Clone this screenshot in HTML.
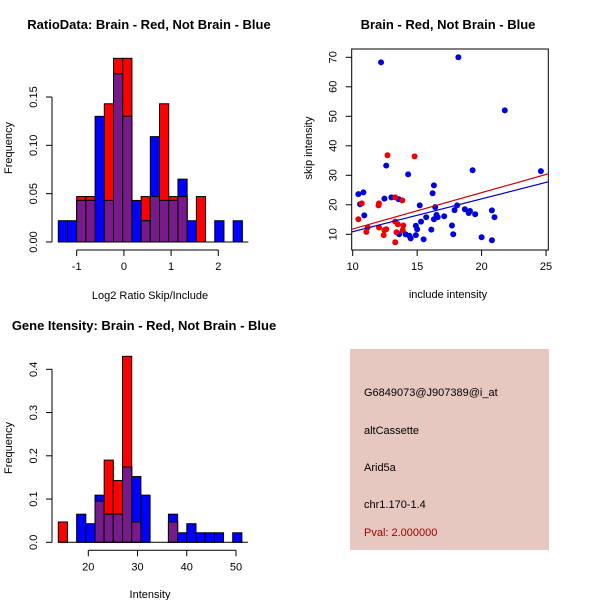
<!DOCTYPE html>
<html><head><meta charset="utf-8"><style>
body{margin:0;background:#fff;width:600px;height:600px;overflow:hidden}
svg{font-family:"Liberation Sans",Arial,sans-serif}
</style></head><body>
<svg id="s" width="600" height="600" xmlns="http://www.w3.org/2000/svg">
<text x="149" y="29" font-size="13" font-weight="bold" text-anchor="middle">RatioData: Brain - Red, Not Brain - Blue</text>
<text x="448" y="29" font-size="13" font-weight="bold" text-anchor="middle">Brain - Red, Not Brain - Blue</text>
<text x="144" y="330" font-size="13" font-weight="bold" text-anchor="middle">Gene Itensity: Brain - Red, Not Brain - Blue</text>
<text x="150" y="299" font-size="11" text-anchor="middle">Log2 Ratio Skip/Include</text>
<text x="150" y="598" font-size="11" text-anchor="middle">Intensity</text>
<text x="448" y="298" font-size="11" text-anchor="middle">include intensity</text>
<text transform="translate(12,148) rotate(-90)" font-size="11" text-anchor="middle">Frequency</text>
<text transform="translate(12,448) rotate(-90)" font-size="11" text-anchor="middle">Frequency</text>
<text transform="translate(312,148) rotate(-90)" font-size="11" text-anchor="middle">skip intensity</text>
<g>
<rect x="350" y="349" width="199" height="201" fill="#e6c8c0"/>
<text x="364" y="396" font-size="11">G6849073@J907389@i_at</text>
<text x="364" y="434" font-size="11">altCassette</text>
<text x="364" y="471" font-size="11">Arid5a</text>
<text x="364" y="508" font-size="11">chr1.170-1.4</text>
<text x="364" y="536" font-size="11" fill="#a00000">Pval: 2.000000</text>
</g>
</svg>
<script>
// Ratio histogram data
const ratioBreakStart = -1.39;
const ratioBinWidth = 0.195;
const ratioRed  = [0,0,0.047,0.047,0,0.143,0.19,0.19,0,0.047,0.047,0.143,0.047,0.047,0,0.047,0,0,0,0];
const ratioBlue = [0.022,0.022,0.043,0.043,0.13,0.043,0.174,0.13,0.043,0.022,0.109,0.043,0.043,0.065,0.022,0,0,0.022,0,0.022];
const ratioXTicks = [-1,0,1,2];
const ratioYTicks = ["0.00","0.05","0.10","0.15"];
// Intensity histogram data
const intBreakStart = 13.9;
const intBinWidth = 1.865;
const intRed  = [0.047,0,0,0,0.095,0.19,0.143,0.43,0.047,0,0,0,0.047,0,0,0,0,0,0,0];
const intBlue = [0,0,0.065,0.043,0.109,0.065,0.065,0.174,0.152,0.109,0,0,0.065,0.022,0.043,0.022,0.022,0.022,0,0.022];
const intXTicks = [20,30,40,50];
const intYTicks = ["0.0","0.1","0.2","0.3","0.4"];
// Scatter data
const blueX = [10.44,10.57,10.83,10.9,12.2,12.46,12.6,13.0,13.57,13.6,14.3,14.1,14.4,14.5,14.9,14.9,15.0,15.2,15.3,15.5,15.7,16.1,16.2,16.3,16.3,16.4,16.5,16.6,17.1,17.7,17.8,17.9,18.1,18.2,18.7,19.0,19.1,19.3,19.5,20.0,20.8,20.8,21.0,21.8,24.6];
const blueY = [23.6,20.2,24.2,16.4,68.3,22.1,33.3,22.5,21.9,10,30.3,10,9.5,8.6,12.9,9.7,11.7,19.8,14.3,8.3,15.8,11.6,23.9,15.1,26.6,19.2,16.6,15.8,16.1,13,10,18.2,19.8,70,18.5,17.2,17.9,31.7,16.8,9,8,18.1,15.8,52,31.4];
const redX = [10.44,10.7,11.06,11.16,12.0,12.04,12.04,12.4,12.46,12.6,12.7,13.3,13.3,13.5,13.4,13.3,13.85,13.88,13.93,14.8];
const redY = [15.1,20.5,10.8,12.3,19.8,20.5,12.3,9.7,11.4,11.7,36.8,22.5,14.3,13.4,10.7,7.3,21.5,11.4,13,36.4];
const fitRed = [-0.52,1.232];   // intercept, slope
const fitBlue = [-0.25,1.114];
const scXTicks = [10,15,20,25];
const scYTicks = [10,20,30,40,50,60,70];

const S=document.getElementById('s'), NS='http://www.w3.org/2000/svg';
function mk(t,a,p){const e=document.createElementNS(NS,t);for(const k in a)e.setAttribute(k,a[k]);(p||S).appendChild(e);return e;}
const PURPLE='#781a8c';

function hist(start,bw,red,blue,xs,ys,ax,ay,name){
  const g=mk('g',{});
  
  
  for(let i=0;i<red.length;i++){
    const x0=ax(start+i*bw), x1=ax(start+(i+1)*bw);
    const r=red[i], b=blue[i], m=Math.min(r,b);
    const draw=(v,c,nm)=>{ if(v<=0)return; const e=mk('rect',{x:x0,y:ay(v),width:x1-x0,height:ay(0)-ay(v),fill:c,stroke:'#000','stroke-width':1},g);
      
      };
    draw(r,'#ff0000',name+'-red-bar-'+i);
    draw(b,'#0000ff',name+'-blue-bar-'+i);
    draw(m,PURPLE,name+'-overlap-bar-'+i);
  }
  mk('line',{x1:ax(start),x2:ax(start+red.length*bw)+6,y1:ay(0),y2:ay(0),stroke:'#000'},g);
  const xa=mk('g',{}), axY=ay(0)+8;
  
  
  mk('line',{x1:ax(xs[0]),x2:ax(xs[xs.length-1]),y1:axY,y2:axY,stroke:'#000'},xa);
  xs.forEach(v=>{mk('line',{x1:ax(v),x2:ax(v),y1:axY,y2:axY+6,stroke:'#000'},xa);
    const t=mk('text',{x:ax(v),y:axY+20,'font-size':11,'text-anchor':'middle'},xa);t.textContent=v;});
  const ya=mk('g',{});
  
  
  mk('line',{x1:52,x2:52,y1:ay(0),y2:ay(+ys[ys.length-1]),stroke:'#000'},ya);
  ys.forEach(v=>{const y=ay(+v);mk('line',{x1:46,x2:52,y1:y,y2:y,stroke:'#000'},ya);
    const t=mk('text',{transform:`translate(37,${y}) rotate(-90)`,'font-size':11,'text-anchor':'middle'},ya);t.textContent=v;});
}
hist(ratioBreakStart,ratioBinWidth,ratioRed,ratioBlue,ratioXTicks,ratioYTicks,
  v=>76.7+(v+1)*47.2, v=>242-v*966.7,'ratio');
hist(intBreakStart,intBinWidth,intRed,intBlue,intXTicks,intYTicks,
  v=>88.3+(v-20)*4.923, v=>542.3-v*432.5,'intensity');

// scatter
const sx=v=>352.7+(v-10)*12.89, sy=v=>234.3-(v-10)*2.95;
const L=351.7,R=548.3,T=49,B=250;
mk('defs',{}).innerHTML='<clipPath id="cp"><rect x="'+L+'" y="'+T+'" width="'+(R-L)+'" height="'+(B-T)+'"/></clipPath>';
const box=mk('rect',{x:L,y:T,width:R-L,height:B-T,fill:'none',stroke:'#000'});


const pts=mk('g',{});


blueX.forEach((x,i)=>{const c=mk('circle',{cx:sx(x),cy:sy(blueY[i]),r:3,fill:'#0000dd'},pts);
  
  });
redX.forEach((x,i)=>{const c=mk('circle',{cx:sx(x),cy:sy(redY[i]),r:3,fill:'#ee0000'},pts);
  
  });
[[fitRed,'#cc0000','red-fit-line'],[fitBlue,'#0000cc','blue-fit-line']].forEach(([f,c,n])=>{
  const xa=9.9,xb=25.3;
  const l=mk('line',{x1:sx(xa),y1:sy(f[0]+f[1]*xa),x2:sx(xb),y2:sy(f[0]+f[1]*xb),stroke:c,'stroke-width':1.2,'clip-path':'url(#cp)'});
  
  
});
const sxa=mk('g',{});


scXTicks.forEach(v=>{mk('line',{x1:sx(v),x2:sx(v),y1:B,y2:B+6,stroke:'#000'},sxa);
  const t=mk('text',{x:sx(v),y:B+20,'font-size':11,'text-anchor':'middle'},sxa);t.textContent=v;});
const sya=mk('g',{});


scYTicks.forEach(v=>{const y=sy(v);mk('line',{x1:L-6,x2:L,y1:y,y2:y,stroke:'#000'},sya);
  const t=mk('text',{transform:`translate(${L-15},${y}) rotate(-90)`,'font-size':11,'text-anchor':'middle'},sya);t.textContent=v;});
</script>
</body></html>
